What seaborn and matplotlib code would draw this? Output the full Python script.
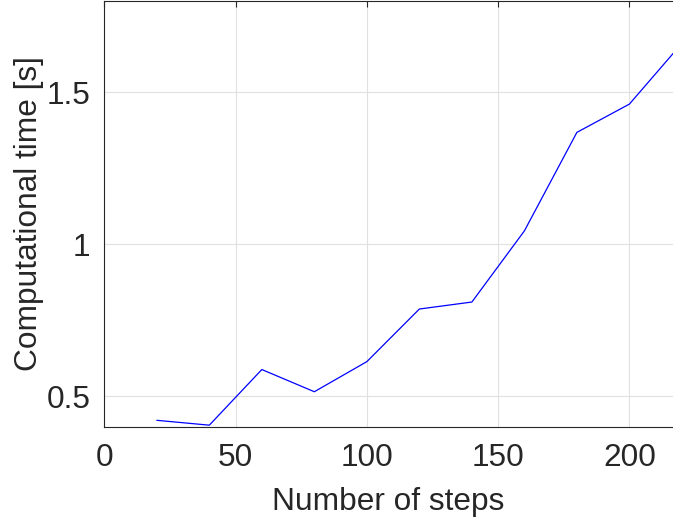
import matplotlib
matplotlib.use("Agg")
import matplotlib.pyplot as plt
import seaborn as sns
import pandas as pd

steps = [20, 40, 60, 80, 100, 120, 140, 160, 180, 200, 220]
times = [0.421, 0.405, 0.588, 0.515, 0.614, 0.787, 0.810, 1.044, 1.368, 1.461, 1.661]
x_ticks = [0, 50, 100, 150, 200]
y_ticks = [0.5, 1, 1.5]
y_tick_labels = ["0.5", "1", "1.5"]

sns.set_theme(style="white")
plt.rcParams['font.family'] = ['Liberation Sans', 'DejaVu Sans']

W, H = 673, 524
fig = plt.figure(figsize=(W / 100, H / 100), dpi=100)
left, bottom, top = 104.3, 426.7, 1.0
ax = fig.add_axes([left / W, 1 - bottom / H, 1 - left / W, (bottom - top) / H])

df = pd.DataFrame({"steps": steps, "time": times})
sns.lineplot(data=df, x="steps", y="time", ax=ax, color="#0000ff", linewidth=0.9)

fs = 22.8
ax.set_xlim(0, 216.6)
ax.set_ylim(0.4, 1.8)
ax.set_xticks(x_ticks)
ax.set_yticks(y_ticks)
ax.set_yticklabels(y_tick_labels)
ax.grid(True, color="#e0e0e0", linewidth=0.8)
ax.set_axisbelow(True)
for s in ["left", "bottom", "top"]:
    ax.spines[s].set_color("#262626")
    ax.spines[s].set_linewidth(0.8)
ax.spines["right"].set_visible(False)
ax.tick_params(axis="both", direction="in", length=4, width=0.8, color="#262626",
               labelsize=fs, labelcolor="#262626", top=True)
ax.tick_params(axis="x", pad=12)
ax.tick_params(axis="y", pad=10)
ax.set_xlabel("Number of steps", fontsize=fs, color="#262626", labelpad=10)
ax.set_ylabel("Computational time [s]", fontsize=fs, color="#262626", labelpad=2)

fig.savefig("out.png", dpi=100)
